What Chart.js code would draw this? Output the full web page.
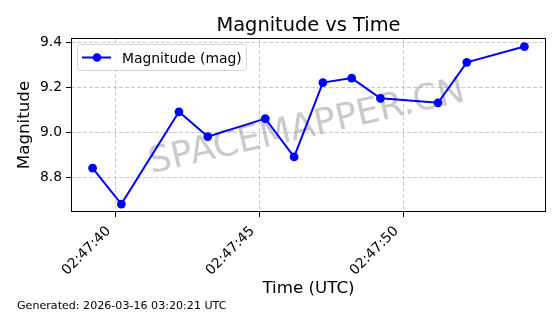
<!DOCTYPE html>
<html>
<head>
<meta charset="utf-8">
<script src="https://cdn.jsdelivr.net/npm/chart.js@4.4.1/dist/chart.umd.min.js"></script>
<style>
  html, body { margin: 0; padding: 0; background: #ffffff; }
  #wrap { width: 560px; height: 314px; position: relative; }
</style>
</head>
<body>
<div id="wrap"><canvas id="c" width="560" height="314"></canvas></div>
<script>
// Time in seconds after 02:47:00 UTC
const timeSeconds = [39.2, 40.2, 42.2, 43.2, 45.2, 46.2, 47.2, 48.2, 49.2, 51.2, 52.2, 54.2];
const magnitudes  = [8.84, 8.68, 9.09, 8.98, 9.06, 8.89, 9.22, 9.24, 9.15, 9.13, 9.31, 9.38];
const xTickValues = [40, 45, 50];
const xTickLabels = ['02:47:40', '02:47:45', '02:47:50'];
const yTickValues = [8.8, 9.0, 9.2, 9.4];
const seriesLabel = 'Magnitude (mag)';
const chartTitle = 'Magnitude vs Time';
const xTitle = 'Time (UTC)';
const yTitle = 'Magnitude';
const watermarkText = 'SPACEMAPPER.CN';
const footerText = 'Generated: 2026-03-16 03:20:21 UTC';

const FONT = "'DejaVu Sans', sans-serif";
const BLUE = '#0000ff';

const points = timeSeconds.map((t, i) => ({ x: t, y: magnitudes[i] }));

const extras = {
  id: 'extras',
  beforeDatasetsDraw(chart) {
    const ctx = chart.ctx;
    ctx.save();
    ctx.translate(309, 137);
    ctx.rotate(-13 * Math.PI / 180);
    ctx.font = '36px ' + FONT;
    ctx.fillStyle = 'rgba(128,128,128,0.42)';
    ctx.textAlign = 'center';
    ctx.textBaseline = 'alphabetic';
    ctx.fillText(watermarkText, 0, 0);
    ctx.restore();
  },
  afterDraw(chart) {
    const ctx = chart.ctx;
    const a = chart.chartArea;
    ctx.save();
    // frame
    ctx.strokeStyle = '#000';
    ctx.lineWidth = 1;
    ctx.strokeRect(Math.round(a.left) + 0.5, Math.round(a.top) + 0.5,
                   Math.round(a.right - a.left) - 1, Math.round(a.bottom - a.top) - 1);
    // title, centred over plot area
    ctx.fillStyle = '#000';
    ctx.font = '19.4px ' + FONT;
    ctx.textAlign = 'center';
    ctx.textBaseline = 'alphabetic';
    ctx.fillText(chartTitle, (a.left + a.right) / 2, 31);
    // legend
    const lx = 77.5, ly = 44.5, lw = 169, lh = 26;
    ctx.beginPath();
    if (ctx.roundRect) ctx.roundRect(lx, ly, lw, lh, 3); else ctx.rect(lx, ly, lw, lh);
    ctx.fillStyle = 'rgba(255,255,255,0.8)';
    ctx.fill();
    ctx.strokeStyle = '#d6d6d6';
    ctx.lineWidth = 1;
    ctx.stroke();
    ctx.beginPath();
    ctx.moveTo(82, 57.5);
    ctx.lineTo(111, 57.5);
    ctx.strokeStyle = BLUE;
    ctx.lineWidth = 2;
    ctx.stroke();
    ctx.beginPath();
    ctx.arc(97, 57.5, 4.3, 0, Math.PI * 2);
    ctx.fillStyle = BLUE;
    ctx.fill();
    ctx.fillStyle = '#000';
    ctx.font = '13.9px ' + FONT;
    ctx.textAlign = 'left';
    ctx.textBaseline = 'alphabetic';
    ctx.fillText(seriesLabel, 122, 62.5);
    // footer
    ctx.font = '11.1px ' + FONT;
    ctx.fillText(footerText, 17, 309);
    ctx.restore();
  }
};

const gridCommon = {
  color: 'rgba(170,170,170,0.75)',
  lineWidth: 0.8,
  drawTicks: true,
  tickLength: 5,
  tickColor: '#000',
  tickWidth: 1,
  tickBorderDash: []
};

new Chart(document.getElementById('c'), {
  type: 'line',
  data: {
    datasets: [{
      label: seriesLabel,
      data: points,
      borderColor: BLUE,
      backgroundColor: BLUE,
      borderWidth: 2,
      pointRadius: 4.4,
      pointHoverRadius: 4.4,
      pointBackgroundColor: BLUE,
      pointBorderWidth: 0,
      tension: 0,
      fill: false
    }]
  },
  options: {
    responsive: false,
    animation: false,
    devicePixelRatio: 1,
    layout: { padding: { left: 0, right: 14, top: 38, bottom: 0 } },
    plugins: {
      legend: { display: false },
      tooltip: { enabled: false },
      title: { display: false }
    },
    scales: {
      x: {
        type: 'linear',
        min: 38.45,
        max: 54.95,
        afterBuildTicks(scale) { scale.ticks = xTickValues.map(v => ({ value: v })); },
        afterFit(scale) { scale.height = 102; },
        ticks: {
          color: '#000',
          font: { family: FONT, size: 13.9 },
          maxRotation: 45,
          minRotation: 45,
          padding: 6,
          labelOffset: -7,
          autoSkip: false,
          callback(value) {
            const i = xTickValues.indexOf(value);
            return i >= 0 ? xTickLabels[i] : '';
          }
        },
        grid: gridCommon,
        border: { display: false, dash: [4, 2] },
        title: {
          display: true,
          text: xTitle,
          color: '#000',
          font: { family: FONT, size: 16.7 },
          padding: { top: 0, bottom: 15 }
        }
      },
      y: {
        type: 'linear',
        min: 8.645,
        max: 9.418,
        afterBuildTicks(scale) { scale.ticks = yTickValues.map(v => ({ value: v })); },
        afterFit(scale) { scale.width = 71; },
        ticks: {
          color: '#000',
          font: { family: FONT, size: 13.9 },
          padding: 4,
          callback(value) { return Number(value).toFixed(1); }
        },
        grid: gridCommon,
        border: { display: false, dash: [4, 2] },
        title: {
          display: true,
          text: yTitle,
          color: '#000',
          font: { family: FONT, size: 16.7 },
          padding: { top: 15, bottom: 0 }
        }
      }
    }
  },
  plugins: [extras]
});
</script>
</body>
</html>
